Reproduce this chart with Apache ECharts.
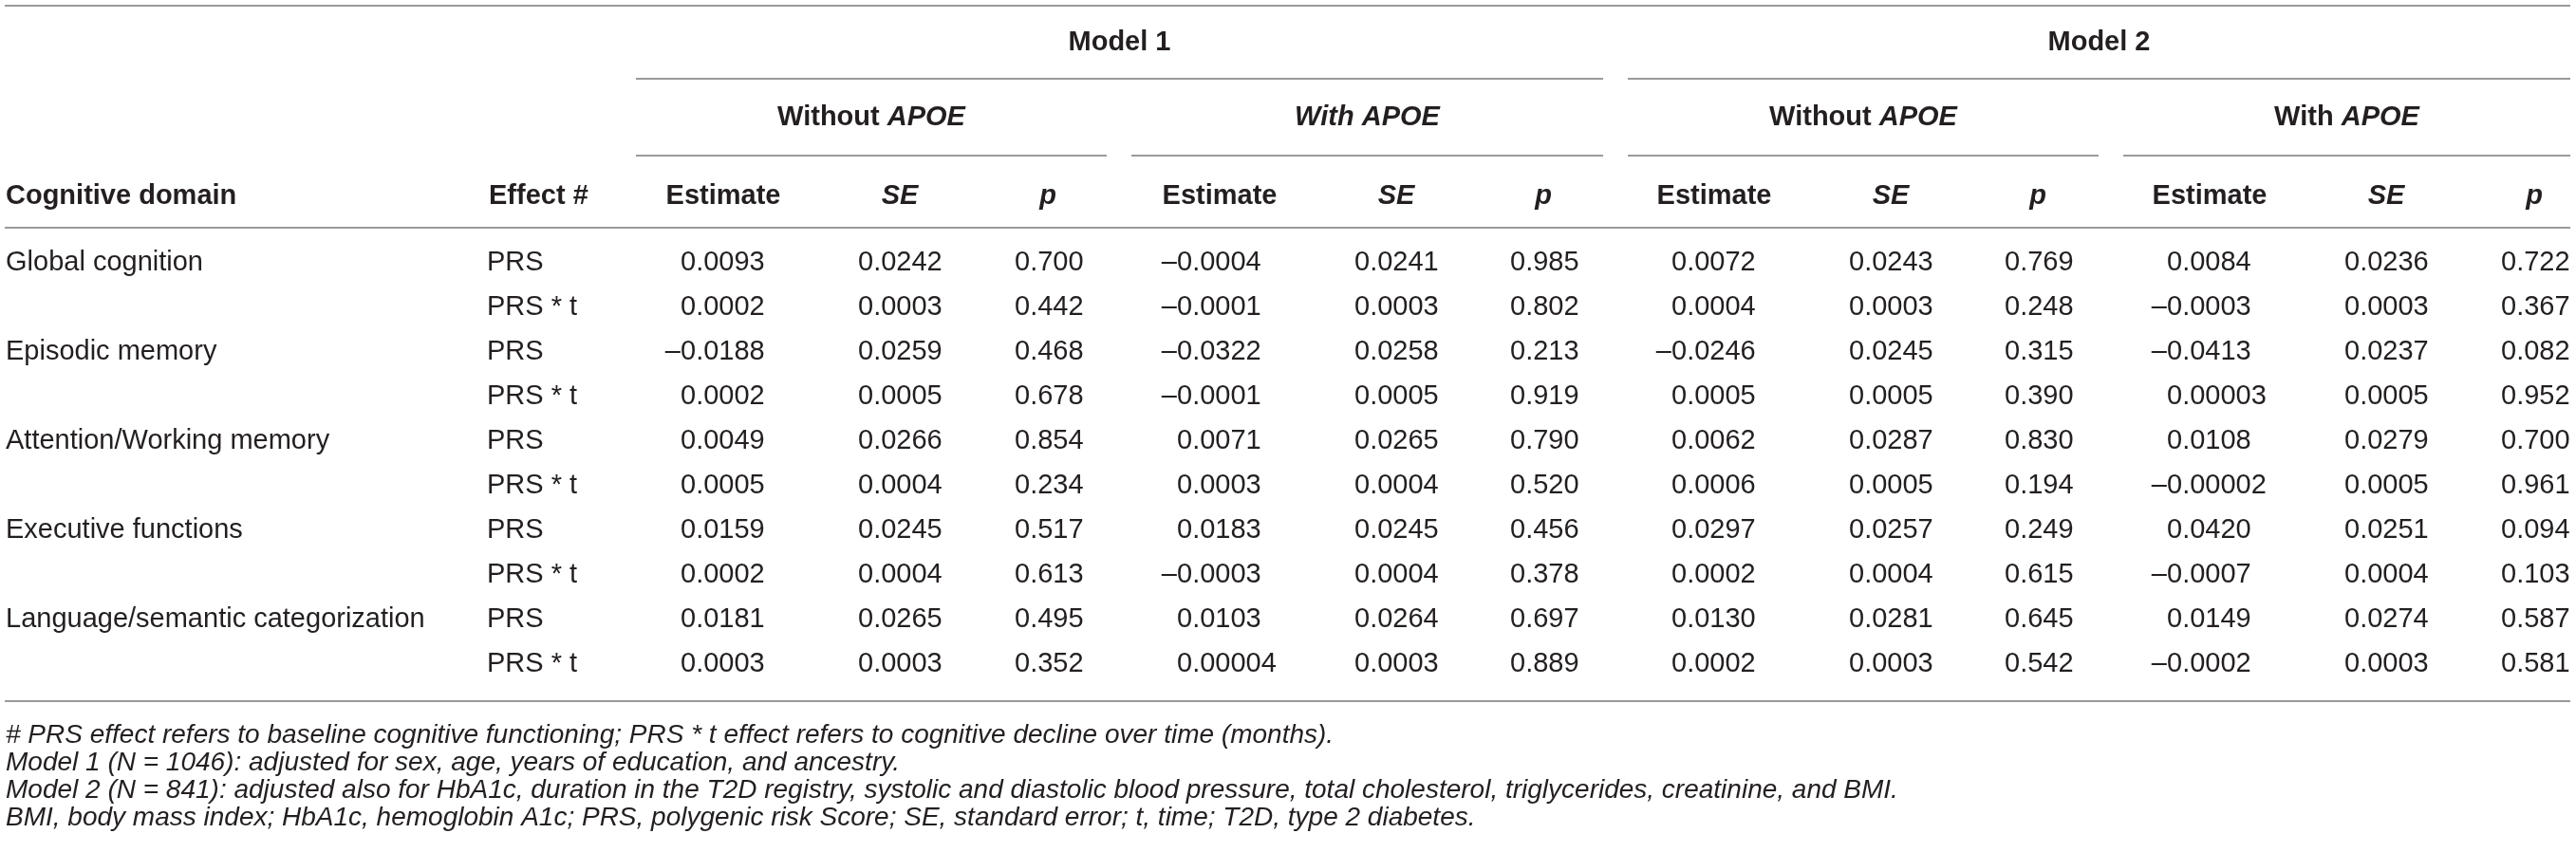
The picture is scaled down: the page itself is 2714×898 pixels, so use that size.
<!DOCTYPE html>
<html>
<head>
<meta charset="utf-8">
<title>PRS and cognitive domains</title>
<script src="https://cdn.jsdelivr.net/npm/echarts@6/dist/echarts.min.js"></script>
<style>
  html, body { margin: 0; padding: 0; background: #fff; }
  #main { width: 2714px; height: 898px; }
</style>
</head>
<body>
<div id="main"></div>
<script>
// ---- table data ----
var domains = ['Global cognition', 'Episodic memory', 'Attention/Working memory', 'Executive functions', 'Language/semantic categorization'];
var effects = ['PRS', 'PRS * t'];

// Model 1, without APOE
var m1NoEst = ['0.0093', '0.0002', '–0.0188', '0.0002', '0.0049', '0.0005', '0.0159', '0.0002', '0.0181', '0.0003'];
var m1NoSe  = ['0.0242', '0.0003', '0.0259', '0.0005', '0.0266', '0.0004', '0.0245', '0.0004', '0.0265', '0.0003'];
var m1NoP   = ['0.700', '0.442', '0.468', '0.678', '0.854', '0.234', '0.517', '0.613', '0.495', '0.352'];
// Model 1, with APOE
var m1Est = ['–0.0004', '–0.0001', '–0.0322', '–0.0001', '0.0071', '0.0003', '0.0183', '–0.0003', '0.0103', '0.00004'];
var m1Se  = ['0.0241', '0.0003', '0.0258', '0.0005', '0.0265', '0.0004', '0.0245', '0.0004', '0.0264', '0.0003'];
var m1P   = ['0.985', '0.802', '0.213', '0.919', '0.790', '0.520', '0.456', '0.378', '0.697', '0.889'];
// Model 2, without APOE
var m2NoEst = ['0.0072', '0.0004', '–0.0246', '0.0005', '0.0062', '0.0006', '0.0297', '0.0002', '0.0130', '0.0002'];
var m2NoSe  = ['0.0243', '0.0003', '0.0245', '0.0005', '0.0287', '0.0005', '0.0257', '0.0004', '0.0281', '0.0003'];
var m2NoP   = ['0.769', '0.248', '0.315', '0.390', '0.830', '0.194', '0.249', '0.615', '0.645', '0.542'];
// Model 2, with APOE
var m2Est = ['0.0084', '–0.0003', '–0.0413', '0.00003', '0.0108', '–0.00002', '0.0420', '–0.0007', '0.0149', '–0.0002'];
var m2Se  = ['0.0236', '0.0003', '0.0237', '0.0005', '0.0279', '0.0005', '0.0251', '0.0004', '0.0274', '0.0003'];
var m2P   = ['0.722', '0.367', '0.082', '0.952', '0.700', '0.961', '0.094', '0.103', '0.587', '0.581'];

var modelNames = ['Model 1', 'Model 2'];
var colHeads = ['Estimate', 'SE', 'p'];
var footnotes = [
    '# PRS effect refers to baseline cognitive functioning; PRS * t effect refers to cognitive decline over time (months).',
    'Model 1 (N = 1046): adjusted for sex, age, years of education, and ancestry.',
    'Model 2 (N = 841): adjusted also for HbA1c, duration in the T2D registry, systolic and diastolic blood pressure, total cholesterol, triglycerides, creatinine, and BMI.',
    'BMI, body mass index; HbA1c, hemoglobin A1c; PRS, polygenic risk Score; SE, standard error; t, time; T2D, type 2 diabetes.'
];

var numCols = [m1NoEst, m1NoSe, m1NoP, m1Est, m1Se, m1P, m2NoEst, m2NoSe, m2NoP, m2Est, m2Se, m2P];

// ---- layout ----
var FONT = '"Liberation Sans", Arial, Helvetica, sans-serif';
var TEXT = '#231f20';
var RULE = '#9a9a9a';
var domainX = 6, effectX = 513;
var colStart = [717, 904, 1069, 1240, 1427, 1591, 1761, 1948, 2112, 2283, 2470, 2635]; // where "0." begins
var headOffset = [45, 44, 35];  // header centre relative to colStart
var groupSpans = [[670, 1166], [1192, 1689], [1715, 2211], [2237, 2708]];
var modelSpans = [[670, 1689], [1715, 2708]];
var fullSpan = [5, 2708];
var yModel = 45, yGroup = 124, yHead = 207;
var yRules = { top: 6, model: 83, group: 164, head: 240, bottom: 739 };
var yNotes = [775, 804, 833, 862];

var rowKeys = [];
domains.forEach(function (d) {
    effects.forEach(function (e) { rowKeys.push(d + ' | ' + e); });
});

// one cell item per text in the body
var cells = [];
for (var r = 0; r < rowKeys.length; r++) {
    if (r % 2 === 0) cells.push({ value: [domainX, r], text: domains[r / 2], kind: 'label' });
    cells.push({ value: [effectX, r], text: effects[r % 2], kind: 'label' });
    numCols.forEach(function (col, c) {
        cells.push({ value: [colStart[c], r], text: col[r], kind: 'num' });
    });
}

var chartDom = document.getElementById('main');
var myChart = echarts.init(chartDom, null, { renderer: 'canvas' });

var option = {
    backgroundColor: '#fff',
    animation: false,
    grid: { left: 0, right: 0, top: 253.5, height: 470 },
    xAxis: { type: 'value', min: 0, max: 2714, show: false },
    yAxis: { type: 'category', data: rowKeys, inverse: true, show: false },
    series: [{
        type: 'custom',
        coordinateSystem: 'cartesian2d',
        data: cells,
        renderItem: function (params, api) {
            var cell = cells[params.dataIndex];
            var pt = api.coord([api.value(0), api.value(1)]);
            var font = '29px ' + FONT;
            var txt = cell.text;
            if (cell.kind === 'num' && txt.charAt(0) === '–') {
                // decimal-aligned: sign hangs to the left of the anchor
                return {
                    type: 'group',
                    children: [
                        { type: 'text', style: { x: pt[0], y: pt[1], text: '–', font: font, fill: TEXT, textAlign: 'right', textVerticalAlign: 'middle' } },
                        { type: 'text', style: { x: pt[0], y: pt[1], text: txt.slice(1), font: font, fill: TEXT, textAlign: 'left', textVerticalAlign: 'middle' } }
                    ]
                };
            }
            return {
                type: 'text',
                style: { x: pt[0], y: pt[1], text: txt, font: font, fill: TEXT, textAlign: 'left', textVerticalAlign: 'middle' }
            };
        }
    }]
};
myChart.setOption(option);

// ---- header, rules and footnotes, positioned through the x axis ----
function px(x) { return myChart.convertToPixel({ xAxisIndex: 0 }, x); }

var rich = {
    b: { font: 'bold 29px ' + FONT, fill: TEXT },
    bi: { font: 'italic bold 29px ' + FONT, fill: TEXT }
};
function headText(x, y, str, align) {
    return {
        type: 'text', x: px(x), y: y,
        style: { text: str, rich: rich, textAlign: align || 'center', textVerticalAlign: 'middle', font: 'bold 29px ' + FONT, fill: TEXT }
    };
}
function rule(x1, x2, y) {
    return {
        type: 'line',
        shape: { x1: px(x1), y1: y, x2: px(x2), y2: y },
        style: { stroke: RULE, lineWidth: 2 }
    };
}

var els = [];
els.push(rule(fullSpan[0], fullSpan[1], yRules.top));
els.push(rule(fullSpan[0], fullSpan[1], yRules.head));
els.push(rule(fullSpan[0], fullSpan[1], yRules.bottom));
modelSpans.forEach(function (s, i) {
    els.push(rule(s[0], s[1], yRules.model));
    els.push(headText((s[0] + s[1]) / 2, yModel, '{b|' + modelNames[i] + '}'));
});
var groupLabels = ['{b|Without }{bi|APOE}', '{bi|With APOE}', '{b|Without }{bi|APOE}', '{b|With }{bi|APOE}'];
groupSpans.forEach(function (s, i) {
    els.push(rule(s[0], s[1], yRules.group));
    els.push(headText((s[0] + s[1]) / 2, yGroup, groupLabels[i]));
});
els.push(headText(domainX, yHead, '{b|Cognitive domain}', 'left'));
els.push(headText(effectX + 2, yHead, '{b|Effect #}', 'left'));
colStart.forEach(function (x, c) {
    var k = c % 3;
    var lab = k === 0 ? '{b|' + colHeads[k] + '}' : '{bi|' + colHeads[k] + '}';
    els.push(headText(x + headOffset[k], yHead, lab));
});
footnotes.forEach(function (t, i) {
    els.push({
        type: 'text', x: px(domainX), y: yNotes[i],
        style: { text: t, font: 'italic 28px ' + FONT, fill: TEXT, textAlign: 'left', textVerticalAlign: 'middle' }
    });
});

myChart.setOption({ graphic: { elements: els } });
</script>
</body>
</html>
